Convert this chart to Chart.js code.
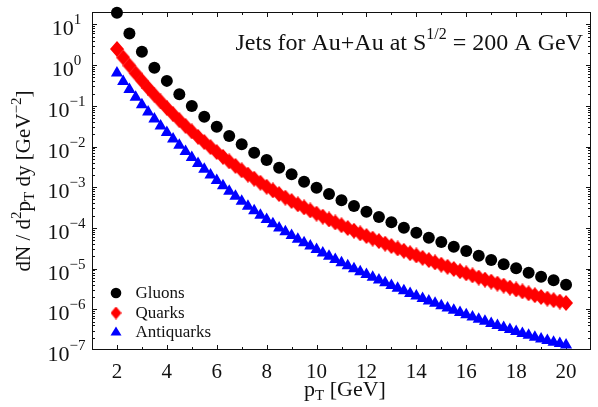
<!DOCTYPE html>
<html>
<head>
<meta charset="utf-8">
<script src="https://cdn.jsdelivr.net/npm/chart.js@4/dist/chart.umd.min.js"></script>
<style>
  html, body { margin: 0; padding: 0; background: #fff; }
  #wrap { width: 598px; height: 407px; }
</style>
</head>
<body>
<div id="wrap"><canvas id="jets" width="598" height="407"></canvas></div>
<script>
// pT grid of each series [GeV]
const gluonPt = [2, 2.5, 3, 3.5, 4, 4.5, 5, 5.5, 6, 6.5, 7, 7.5, 8, 8.5, 9, 9.5, 10, 10.5, 11, 11.5,
  12, 12.5, 13, 13.5, 14, 14.5, 15, 15.5, 16, 16.5, 17, 17.5, 18, 18.5, 19, 19.5, 20];
const quarkPt = [2, 2.25, 2.5, 2.75, 3, 3.25, 3.5, 3.75, 4, 4.25, 4.5, 4.75, 5, 5.25, 5.5, 5.75,
  6, 6.25, 6.5, 6.75, 7, 7.25, 7.5, 7.75, 8, 8.25, 8.5, 8.75, 9, 9.25, 9.5, 9.75,
  10, 10.25, 10.5, 10.75, 11, 11.25, 11.5, 11.75, 12, 12.25, 12.5, 12.75, 13, 13.25, 13.5, 13.75,
  14, 14.25, 14.5, 14.75, 15, 15.25, 15.5, 15.75, 16, 16.25, 16.5, 16.75, 17, 17.25, 17.5, 17.75,
  18, 18.25, 18.5, 18.75, 19, 19.25, 19.5, 19.75, 20];

// dN / d2pT dy [GeV^-2]
const gluons = [19.4, 6.0, 2.13, 0.86, 0.41, 0.192, 0.099, 0.054, 0.0306, 0.0181,
  0.0113, 0.00705, 0.00466, 0.00301, 0.00207, 0.00136, 0.00097, 0.00068, 0.000477, 0.000345,
  0.00025, 0.000185, 0.000137, 0.000101, 7.6e-5, 5.7e-5, 4.5e-5, 3.45e-5, 2.7e-5, 2.07e-5,
  1.63e-5, 1.28e-5, 1.02e-5, 7.9e-6, 6.3e-6, 5.2e-6, 4.0e-6];
const quarks = [2.49, 1.54, 0.978, 0.629, 0.414, 0.275, 0.186, 0.128, 0.0888, 0.0625,
  0.0445, 0.0321, 0.0235, 0.0173, 0.0129, 0.00967, 0.00732, 0.00558, 0.0043, 0.00334,
  0.0026, 0.00204, 0.00162, 0.00129, 0.00103, 0.000834, 0.000677, 0.000555, 0.000458, 0.00038,
  0.000319, 0.000268, 0.000225, 0.00019, 0.000161, 0.000136, 0.000116, 9.94e-5, 8.53e-5, 7.32e-5,
  6.32e-5, 5.46e-5, 4.74e-5, 4.11e-5, 3.59e-5, 3.13e-5, 2.74e-5, 2.39e-5, 2.10e-5, 1.84e-5,
  1.62e-5, 1.42e-5, 1.25e-5, 1.11e-5, 9.78e-6, 8.63e-6, 7.66e-6, 6.80e-6, 6.04e-6, 5.37e-6,
  4.79e-6, 4.28e-6, 3.82e-6, 3.41e-6, 3.07e-6, 2.75e-6, 2.47e-6, 2.22e-6, 2.01e-6, 1.83e-6,
  1.68e-6, 1.55e-6, 1.43e-6];
const antiquarks = [0.640, 0.396, 0.252, 0.162, 0.106, 0.0704, 0.0472, 0.0321, 0.0222, 0.0153,
  0.0107, 0.00754, 0.0054, 0.00384, 0.00276, 0.00199, 0.00146, 0.00108, 0.0008, 0.000597,
  0.00045, 0.000343, 0.000265, 0.000205, 0.00016, 0.000126, 0.0001, 8.06e-5, 6.51e-5, 5.28e-5,
  4.34e-5, 3.57e-5, 2.93e-5, 2.42e-5, 2.01e-5, 1.67e-5, 1.40e-5, 1.17e-5, 9.94e-6, 8.41e-6,
  7.16e-6, 6.10e-6, 5.22e-6, 4.47e-6, 3.84e-6, 3.31e-6, 2.85e-6, 2.45e-6, 2.12e-6, 1.85e-6,
  1.61e-6, 1.40e-6, 1.23e-6, 1.08e-6, 9.48e-7, 8.30e-7, 7.32e-7, 6.47e-7, 5.73e-7, 5.07e-7,
  4.50e-7, 4.01e-7, 3.57e-7, 3.18e-7, 2.85e-7, 2.56e-7, 2.30e-7, 2.06e-7, 1.86e-7, 1.70e-7,
  1.56e-7, 1.44e-7, 1.33e-7];

// axis ticks
const xTicks = [2, 4, 6, 8, 10, 12, 14, 16, 18, 20];
const xMinorTicks = [3, 5, 7, 9, 11, 13, 15, 17, 19];
const yTickExps = [-7, -6, -5, -4, -3, -2, -1, 0, 1];

const SERIF = '"Liberation Serif", "DejaVu Serif", serif';

// tall diamond used for the quark points
function diamond(w, h, color) {
  const c = document.createElement('canvas');
  c.width = w; c.height = h;
  const g = c.getContext('2d');
  g.fillStyle = color;
  g.beginPath();
  g.moveTo(w / 2, 0); g.lineTo(w, h / 2); g.lineTo(w / 2, h); g.lineTo(0, h / 2);
  g.closePath();
  g.fill();
  return c;
}

// text with super/subscripts: parts = [text, size, rise]
function richText(ctx, parts, x, y, align) {
  let w = 0;
  parts.forEach(p => { ctx.font = p[1] + 'px ' + SERIF; w += ctx.measureText(p[0]).width; });
  let cx = align === 'center' ? x - w / 2 : align === 'right' ? x - w : x;
  parts.forEach(p => {
    ctx.font = p[1] + 'px ' + SERIF;
    ctx.fillText(p[0], cx, y - (p[2] || 0));
    cx += ctx.measureText(p[0]).width;
  });
}

const frame = {
  id: 'frame',
  beforeDatasetsDraw(chart) {
    const { ctx, chartArea: a, scales: { x, y } } = chart;
    ctx.save();
    ctx.strokeStyle = '#111';
    ctx.lineWidth = 1;
    ctx.strokeRect(a.left + 0.5, a.top + 0.5, a.right - a.left - 1, a.bottom - a.top - 1);
    ctx.beginPath();
    const vtick = (v, len) => {
      const px = Math.round(x.getPixelForValue(v)) + 0.5;
      ctx.moveTo(px, a.bottom); ctx.lineTo(px, a.bottom - len);
      ctx.moveTo(px, a.top); ctx.lineTo(px, a.top + len);
    };
    const htick = (v, len) => {
      const py = Math.round(y.getPixelForValue(v)) + 0.5;
      if (py < a.top || py > a.bottom) return;
      ctx.moveTo(a.left, py); ctx.lineTo(a.left + len, py);
      ctx.moveTo(a.right, py); ctx.lineTo(a.right - len, py);
    };
    xTicks.forEach(v => vtick(v, 5));
    xMinorTicks.forEach(v => vtick(v, 3));
    yTickExps.forEach(e => {
      htick(Math.pow(10, e), 5);
      for (let k = 2; k <= 9; k++) htick(k * Math.pow(10, e), 3);
    });
    ctx.stroke();
    ctx.restore();
  },
  afterDraw(chart) {
    const { ctx, scales: { x, y } } = chart;
    ctx.save();
    ctx.fillStyle = '#111';
    ctx.textBaseline = 'alphabetic';
    ctx.textAlign = 'left';

    xTicks.forEach(v => richText(ctx, [[String(v), 21]], x.getPixelForValue(v), 378, 'center'));
    yTickExps.forEach(e => {
      const py = y.getPixelForValue(Math.pow(10, e));
      richText(ctx, [['10', 22], [String(e).replace('-', '\u2212'), 15, 11]], 66.5, py + 11, 'center');
    });

    richText(ctx, [['p', 22], ['T', 15, -4], [' [GeV]', 22]], 345, 396, 'center');

    ctx.save();
    ctx.translate(30, 181);
    ctx.rotate(-Math.PI / 2);
    richText(ctx, [['dN / d', 21], ['2', 15, 9], ['p', 21], ['T', 15, -4], [' dy [GeV', 21],
      ['\u22122', 15, 9], [']', 21]], 0, 0, 'center');
    ctx.restore();

    richText(ctx, [['Jets for Au+Au at S', 24], ['1/2', 16, 11], [' = 200 A GeV', 24]], 583, 50, 'right');

    // legend
    const rows = [
      { label: chart.data.datasets[0].label, y: 293 },
      { label: chart.data.datasets[1].label, y: 313 },
      { label: chart.data.datasets[2].label, y: 332 }
    ];
    const mx = 116;
    ctx.fillStyle = '#000';
    ctx.beginPath(); ctx.arc(mx, rows[0].y, 5.3, 0, Math.PI * 2); ctx.fill();
    ctx.drawImage(diamond(11, 13, '#ff0000'), mx - 5.5, rows[1].y - 6.5);
    ctx.fillStyle = '#0000ff';
    ctx.beginPath();
    ctx.moveTo(mx, rows[2].y - 5.5); ctx.lineTo(mx + 5.5, rows[2].y + 3.5); ctx.lineTo(mx - 5.5, rows[2].y + 3.5);
    ctx.closePath(); ctx.fill();
    ctx.fillStyle = '#111';
    rows.forEach(r => richText(ctx, [[r.label, 17]], 135.5, r.y + 5, 'left'));
    ctx.restore();
  }
};

const toPoints = (xs, ys) => xs.map((v, i) => ({ x: v, y: ys[i] }));

new Chart(document.getElementById('jets'), {
  type: 'scatter',
  data: {
    datasets: [
      {
        label: 'Gluons',
        data: toPoints(gluonPt, gluons),
        pointStyle: 'circle',
        pointRadius: 6,
        backgroundColor: '#000',
        borderWidth: 0,
        clip: false
      },
      {
        label: 'Quarks',
        data: toPoints(quarkPt, quarks),
        pointStyle: diamond(14, 16, '#ff0000'),
        backgroundColor: '#ff0000',
        clip: false
      },
      {
        label: 'Antiquarks',
        data: toPoints(quarkPt, antiquarks),
        pointStyle: 'triangle',
        pointRadius: 7,
        backgroundColor: '#0000ff',
        borderWidth: 0,
        clip: false
      }
    ]
  },
  options: {
    responsive: false,
    animation: false,
    devicePixelRatio: 1,
    layout: { padding: { left: 92, top: 12, right: 0, bottom: 57 } },
    scales: {
      x: { type: 'linear', min: 1, max: 21, display: false },
      y: { type: 'logarithmic', min: 1e-7, max: 20.2, display: false }
    },
    plugins: {
      legend: { display: false },
      tooltip: { enabled: false }
    }
  },
  plugins: [frame]
});
</script>
</body>
</html>
